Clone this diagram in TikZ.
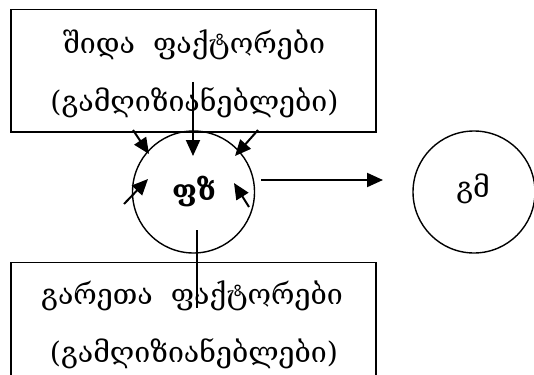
\documentclass[tikz,border=0pt]{standalone}
\usepackage{fontspec}
\newfontfamily\geo{DejaVu Serif}
\usetikzlibrary{arrows.meta}
\begin{document}
\begin{tikzpicture}[x=1pt,y=-1pt,
  frame/.style={draw, line width=1.6pt, rectangle, inner sep=0pt},
  ring/.style={draw, line width=1.4pt, circle, minimum size=122pt, inner sep=0pt},
  lbl/.style={font=\geo\fontsize{28.5}{32}\selectfont, inner sep=0pt, anchor=base},
  arr/.style={line width=2pt, -{Triangle[length=16pt,width=14pt]}},
  plain/.style={line width=2pt}]
\clip (0,0) rectangle (534,374);
\node[frame, minimum width=365pt, minimum height=122.5pt] (top) at (193.5,70.75) {};
\node[frame, minimum width=365pt, minimum height=140pt] (bot) at (193.5,332.6) {};
\node[ring] (fz) at (193.5,192) {};
\node[ring] (gm) at (474,192) {};
\node[lbl] (t1) at (194,54) {შიდა\ \ ფაქტორები};
\node[lbl] (t2) at (194.5,112) {(გამღიზიანებლები)};
\node[lbl] (b1) at (192,304) {გარეთა\ \ ფაქტორები};
\node[lbl] (b2) at (194,362) {(გამღიზიანებლები)};
\node[lbl, anchor=center, font=\geo\bfseries\fontsize{28.5}{32}\selectfont] (fzl) at (194,192) {ფზ};
\node[lbl, anchor=center] (gml) at (473,189) {გმ};
\coordinate (a1s) at (193,82);  \coordinate (a1e) at (193,156);
\coordinate (a2s) at (133,130); \coordinate (a2e) at (149,154);
\coordinate (a3s) at (258,130); \coordinate (a3e) at (235,156);
\coordinate (a4s) at (124,204); \coordinate (a4e) at (148,179);
\coordinate (a5s) at (249,207); \coordinate (a5e) at (234,183);
\coordinate (ls) at (197,230);  \coordinate (le) at (197,308);
\coordinate (rs) at (261,180);  \coordinate (re) at (383,180);
\draw[arr] (a1s) -- (a1e);
\draw[arr] (a2s) -- (a2e);
\draw[arr] (a3s) -- (a3e);
\draw[arr] (a4s) -- (a4e);
\draw[arr] (a5s) -- (a5e);
\draw[plain] (ls) -- (le);
\draw[arr] (rs) -- (re);
\end{tikzpicture}
\end{document}
